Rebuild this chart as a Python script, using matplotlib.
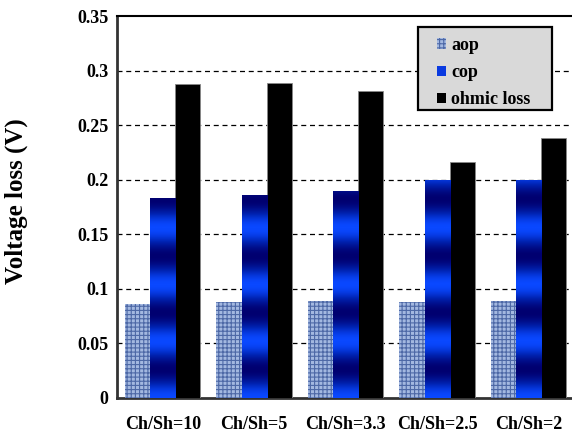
import numpy as np
import matplotlib
matplotlib.use("Agg")
import matplotlib.pyplot as plt
from matplotlib.patches import Patch, Rectangle
from matplotlib.colors import LinearSegmentedColormap

categories = ["Ch/Sh=10", "Ch/Sh=5", "Ch/Sh=3.3", "Ch/Sh=2.5", "Ch/Sh=2"]
aop = [0.086, 0.088, 0.089, 0.088, 0.089]
cop = [0.183, 0.186, 0.190, 0.200, 0.200]
ohmic = [0.288, 0.289, 0.281, 0.216, 0.238]
series_names = ["aop", "cop", "ohmic loss"]
yticks = [0, 0.05, 0.1, 0.15, 0.2, 0.25, 0.3, 0.35]
ytick_labels = ["0", "0.05", "0.1", "0.15", "0.2", "0.25", "0.3", "0.35"]

plt.rcParams['font.family'] = ['Liberation Serif', 'DejaVu Serif']
plt.rcParams['font.weight'] = 'bold'
plt.rcParams['hatch.linewidth'] = 0.8

fig = plt.figure(figsize=(5.72, 4.34), dpi=100)
ax = fig.add_axes([0.2045, 0.083, 0.7955, 0.880])

x = np.arange(len(categories))
w = 0.275

b1 = ax.bar(x - w, aop, w, color='#a3b8e0', edgecolor='#4d68a6', linewidth=0,
            hatch='++++', zorder=3)
b2 = ax.bar(x, cop, w, color='#0a3ae0', linewidth=0, zorder=3)
b3 = ax.bar(x + w, ohmic, w, color='black', edgecolor='#888888', linewidth=0.6, zorder=3)

# gradient fill for cop bars (bands based on data height)
cmap = LinearSegmentedColormap.from_list('bl', ['#000070', '#0022b0', '#0a48ff'])
period = 0.052
for bar in b2:
    x0 = bar.get_x(); x1 = x0 + bar.get_width(); h = bar.get_height()
    yy = np.linspace(0, h, 300)
    vals = 0.5 + 0.5 * np.cos(2 * np.pi * yy / period)
    img = ax.imshow(vals[:, None], extent=(x0, x1, 0, h), origin='lower',
                    cmap=cmap, vmin=0, vmax=1, aspect='auto', zorder=3.5,
                    interpolation='bilinear')
    img.set_clip_path(bar)

ax.set_xlim(-0.5, 4.475)
ax.set_ylim(0, 0.35)
ax.set_yticks(yticks)
ax.set_yticklabels(ytick_labels, fontsize=13, fontweight='bold')
ax.set_xticks(x)
ax.set_xticklabels(categories, fontsize=13, fontweight='bold')
ax.tick_params(axis='both', length=0)
ax.tick_params(axis='y', pad=6)
ax.tick_params(axis='x', pad=13)

for yv in yticks[1:-1]:
    ax.axhline(yv, color='black', linestyle=(0, (4, 3)), linewidth=0.9, zorder=1)

ax.spines['right'].set_visible(False)
ax.spines['top'].set_color('black')
ax.spines['top'].set_linewidth(1.5)
for s in ['left', 'bottom']:
    ax.spines[s].set_color('#333333')
    ax.spines[s].set_linewidth(2)

ax.set_ylabel("Voltage loss (V)", fontsize=18, fontweight='bold')
ax.yaxis.set_label_coords(-0.195, 0.516)

# legend box
box = Rectangle((418 / 572, (434 - 110) / 434), 134 / 572, 83 / 434,
                transform=fig.transFigure, facecolor='#d9d9d9', edgecolor='black',
                linewidth=1.6, zorder=9)
fig.patches.append(box)

handles = [Patch(facecolor='#a3b8e0', edgecolor='#4d68a6', hatch='++++', linewidth=0),
           Patch(facecolor='#0a3ae0', linewidth=0),
           Patch(facecolor='black', linewidth=0)]
leg = fig.legend(handles, series_names, loc='upper left',
                 bbox_to_anchor=(437 / 572, (434 - 37) / 434), bbox_transform=fig.transFigure,
                 prop={'family': 'Liberation Serif', 'weight': 'bold', 'size': 13},
                 frameon=False, handlelength=0.5, handleheight=0.5, handletextpad=0.3,
                 labelspacing=0.56, borderpad=0, borderaxespad=0)
leg.set_zorder(10)

fig.savefig("out.png", dpi=100)
